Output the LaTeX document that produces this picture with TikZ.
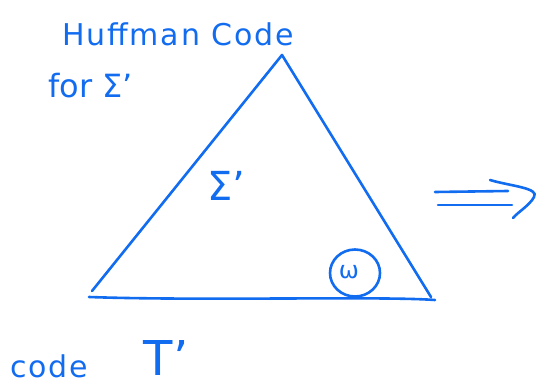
\documentclass[tikz,border=0pt]{standalone}
\usepackage{fontspec}
\usetikzlibrary{shapes.geometric}
\setmainfont{DejaVu Sans}
\definecolor{ink}{RGB}{18,108,240}
\begin{document}
\begin{tikzpicture}[x=1pt,y=-1pt,
  pen/.style={draw=ink,line width=2.6pt,line cap=round,line join=round},
  lbl/.style={text=ink,inner sep=0pt,font=\fontsize{22}{26}\selectfont}]
\useasboundingbox (0,0) rectangle (540,387);
% triangle corners
\coordinate (apex) at (282,55);
\coordinate (bl) at (92,291);
\coordinate (br) at (431,297);
\coordinate (bl2) at (89,297);
\coordinate (br2) at (435,300);
\draw[pen] (bl) -- (apex) -- (br);
\draw[pen] (bl2) .. controls (200,301) and (380,296) .. (br2);
% omega circle
\node[pen,ellipse,minimum width=50pt,minimum height=47pt,inner sep=0pt] (w) at (355,273) {};
\node[lbl,font=\fontsize{24}{26}\selectfont] (wl) at (349,272) {ω};
% arrow
\coordinate (a1s) at (435,192);
\coordinate (a1e) at (508,191);
\coordinate (a2s) at (438,205);
\coordinate (a2e) at (512,205);
\coordinate (c1) at (490,180);
\coordinate (c2) at (534,197);
\coordinate (c3) at (513,218);
\draw[pen] (a1s) -- (a1e);
\draw[pen] (a2s) -- (a2e);
\draw[pen] (c1) .. controls (510,186) and (540,188) .. (c2) .. controls (530,205) and (518,212) .. (c3);
% labels
\node[lbl,font=\fontsize{30}{34}\selectfont\addfontfeatures{LetterSpace=6}] (t1) at (178,34) {Huffman Code};
\node[lbl,font=\fontsize{32}{36}\selectfont,anchor=west] (t2) at (48,86) {for Σ’};
\node[lbl,font=\fontsize{40}{44}\selectfont] (s) at (226,186) {Σ’};
\node[lbl,font=\fontsize{30}{34}\selectfont\addfontfeatures{LetterSpace=6},anchor=west] (code) at (10,366) {code};
\node[lbl,font=\fontsize{48}{52}\selectfont] (T) at (166,358) {T’};
\end{tikzpicture}
\end{document}
